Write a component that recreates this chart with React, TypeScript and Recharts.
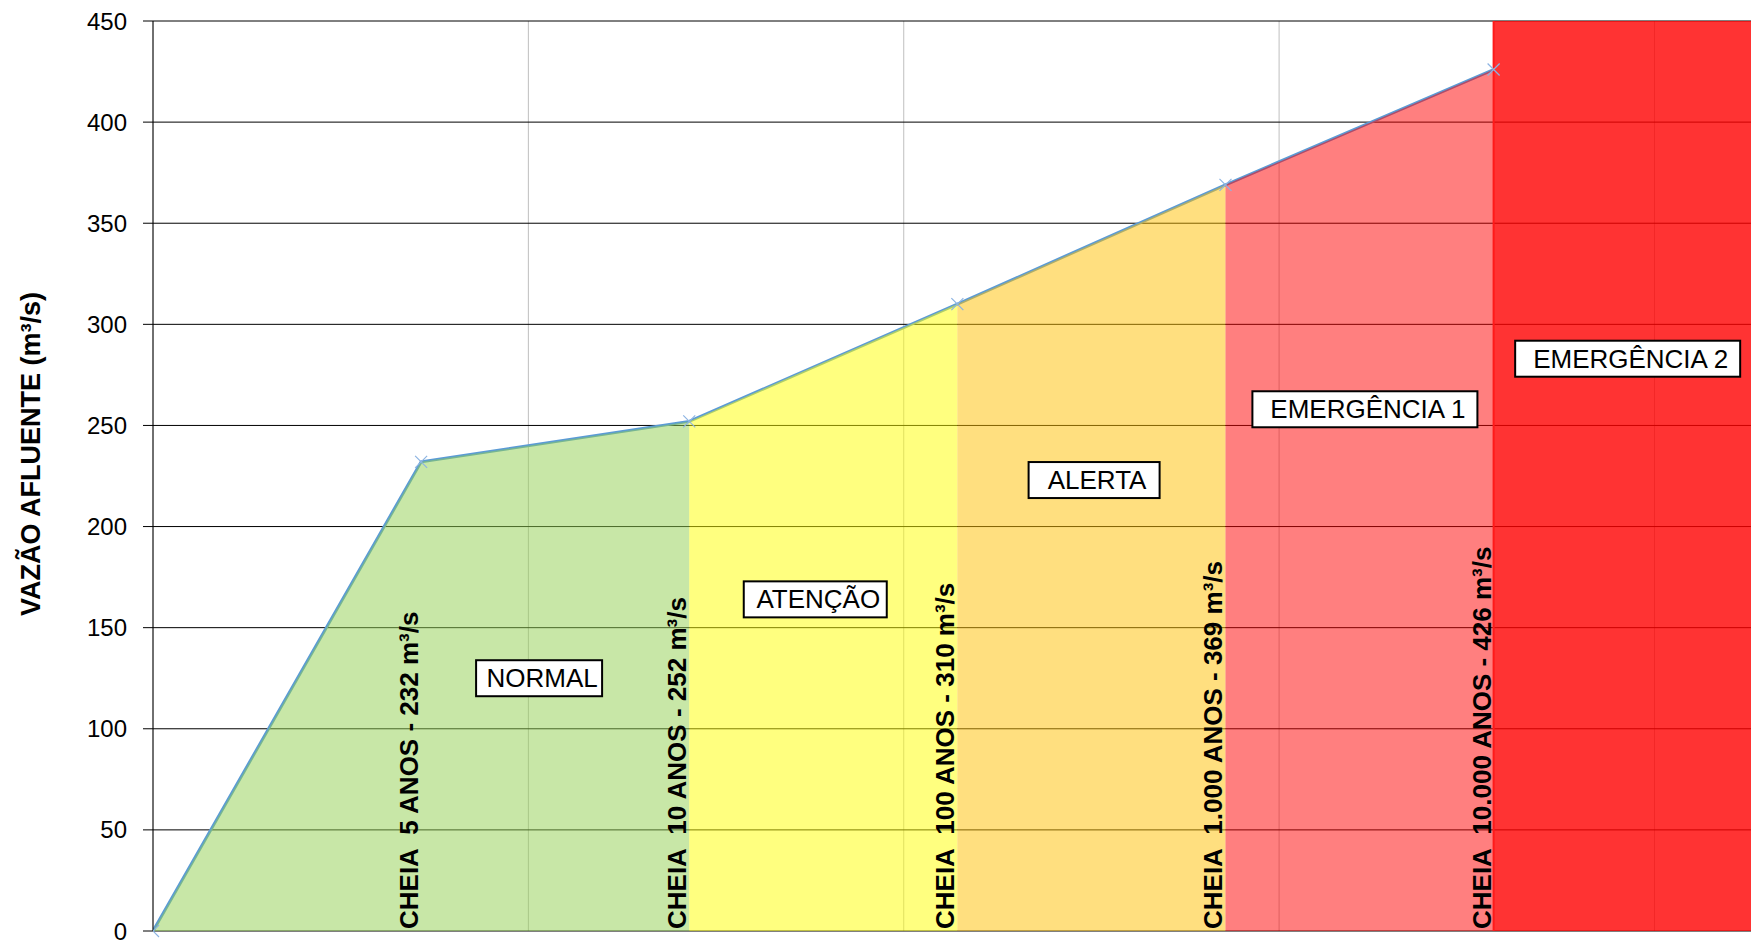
import React from "react";
import {
  ComposedChart,
  Area,
  Line,
  XAxis,
  YAxis,
  CartesianGrid,
  ReferenceDot,
  ReferenceLine,
  Label,
} from "recharts";

// Flood events along the x axis (index 0 is the origin)
const floodNames = ["", "CHEIA  5 ANOS", "CHEIA  10 ANOS", "CHEIA  100 ANOS", "CHEIA  1.000 ANOS", "CHEIA  10.000 ANOS"];
const floodFlows = [0, 232, 252, 310, 369, 426];

// Operating stages: each band spans flood index stageFrom..stageTo (6 = right edge)
const stageNames = ["NORMAL", "ATENÇÃO", "ALERTA", "EMERGÊNCIA 1", "EMERGÊNCIA 2"];
const stageFrom = [0, 2, 3, 4, 5];
const stageTo = [2, 3, 4, 5, 6];

// stage name anchors, in axis units
const stageLabelX = [1.44, 2.47, 3.51, 4.52, 5.5];
const stageLabelY = [125, 164, 223, 258, 283];

const yTicks = [0, 50, 100, 150, 200, 250, 300, 350, 400, 450];
const xGridTicks = [0, 1.4, 2.8, 4.2, 5.6];
const xEnd = 5.96;
const yMax = 450;

const FONT = "'Liberation Sans', Arial, sans-serif";
const stageFill = ["#92D050", "#FFFF00", "#FFC000", "#FF0000", "#FF0000"];
const stageOpacity = [0.5, 0.5, 0.5, 0.5, 0.8];
const boxWidth: Record<string, number> = {
  NORMAL: 126,
  "ATENÇÃO": 143,
  ALERTA: 131,
  "EMERGÊNCIA 1": 225,
  "EMERGÊNCIA 2": 225,
};

const xs = [...floodFlows.map((_, i) => i), xEnd];
const rows = xs.map((x, k) => {
  const row: any = { x, flow: k < floodFlows.length ? floodFlows[k] : null };
  stageNames.forEach((_, s) => {
    const inBand = k >= stageFrom[s] && k <= stageTo[s];
    const last = s === stageNames.length - 1;
    row[`s${s}`] = inBand ? (last ? yMax : floodFlows[k]) : null;
  });
  return row;
});

const XMark = (props: any) => {
  const { cx, cy } = props;
  if (cx == null || cy == null) return null;
  const r = 6;
  return (
    <path
      d={`M${cx - r},${cy - r}L${cx + r},${cy + r}M${cx - r},${cy + r}L${cx + r},${cy - r}`}
      stroke="#8db4e2"
      strokeWidth={1.2}
      fill="none"
    />
  );
};

const floodLabel = (text: string) => (p: any) => {
  const x = p.viewBox.x - 3;
  const y = p.viewBox.y - 2;
  return (
    <text
      x={x}
      y={y}
      transform={`rotate(-90 ${x} ${y})`}
      fontSize={26}
      fontWeight="bold"
      fontFamily={FONT}
      fill="#000"
      style={{ whiteSpace: "pre" }}
    >
      {text}
    </text>
  );
};

const stageLabel = (text: string) => (p: any) => {
  const cx = p.viewBox.x;
  const cy = p.viewBox.y;
  const w = boxWidth[text] ?? 140;
  const h = 36;
  return (
    <g>
      <rect x={cx - w / 2} y={cy - h / 2} width={w} height={h} fill="#fff" stroke="#000" strokeWidth={2} />
      <text
        x={cx + 3}
        y={cy}
        textAnchor="middle"
        dominantBaseline="central"
        fontSize={26}
        fontFamily={FONT}
        fill="#000"
      >
        {text}
      </text>
    </g>
  );
};

const yTitle = (p: any) => {
  const vb = p.viewBox || { x: 0, y: 21, height: 910 };
  const cx = 31;
  const cy = vb.y + vb.height / 2 - 22;
  return (
    <text
      x={cx}
      y={cy}
      transform={`rotate(-90 ${cx} ${cy})`}
      textAnchor="middle"
      dominantBaseline="central"
      fontSize={27}
      fontWeight="bold"
      fontFamily={FONT}
      fill="#000"
    >
      VAZÃO AFLUENTE (m³/s)
    </text>
  );
};

// vertical grid lines at xGridTicks, mapped onto the plot width
const xGridLines = (props: any) => {
  const scale = props?.xAxis?.scale;
  if (typeof scale === "function") return xGridTicks.map((t) => scale(t));
  const off = props?.offset ?? { left: 153, width: 1598 };
  return xGridTicks.map((t) => off.left + (t / xEnd) * off.width);
};

export default function App() {
  return (
    <div style={{ position: "absolute", left: 0, top: 0, width: 1751, height: 942, background: "#fff" }}>
      <ComposedChart width={1751} height={942} data={rows} margin={{ top: 21, right: 0, bottom: 11, left: 0 }}>
        <CartesianGrid horizontal={false} stroke="#bfbfbf" strokeWidth={1} verticalCoordinatesGenerator={xGridLines} />
        <CartesianGrid vertical={false} stroke="#000" strokeWidth={1} />
        <XAxis
          type="number"
          dataKey="x"
          domain={[0, xEnd]}
          ticks={xGridTicks}
          tick={false}
          tickLine={false}
          axisLine={{ stroke: "#000" }}
          height={0}
          allowDataOverflow
        />
        <YAxis
          type="number"
          domain={[0, yMax]}
          ticks={yTicks}
          interval={0}
          width={153}
          tickSize={10}
          tickMargin={16}
          tick={{ fontSize: 24, fill: "#000", fontFamily: FONT }}
          tickLine={{ stroke: "#000" }}
          axisLine={{ stroke: "#000" }}
        >
          <Label content={yTitle} />
        </YAxis>

        <Line
          type="linear"
          dataKey="flow"
          stroke="#5b9bd5"
          strokeWidth={3}
          dot={<XMark />}
          activeDot={false}
          isAnimationActive={false}
          {...({ zIndex: 50 } as any)}
        />

        {stageNames.map((name, s) => (
          <Area
            key={name}
            type="linear"
            dataKey={`s${s}`}
            stroke="none"
            fill={stageFill[s]}
            fillOpacity={stageOpacity[s]}
            dot={false}
            activeDot={false}
            isAnimationActive={false}
            {...({ zIndex: 150 } as any)}
          />
        ))}

        <ReferenceLine x={5} stroke="#ff1a1a" strokeWidth={2} />

        {floodNames.slice(1).map((name, i) => (
          <ReferenceDot
            key={name}
            x={i + 1}
            y={0}
            r={0}
            fill="none"
            stroke="none"
            label={floodLabel(`${name} - ${floodFlows[i + 1]} m³/s`)}
          />
        ))}

        {stageNames.map((name, s) => (
          <ReferenceDot
            key={name}
            x={stageLabelX[s]}
            y={stageLabelY[s]}
            r={0}
            fill="none"
            stroke="none"
            label={stageLabel(name)}
          />
        ))}
      </ComposedChart>
    </div>
  );
}
